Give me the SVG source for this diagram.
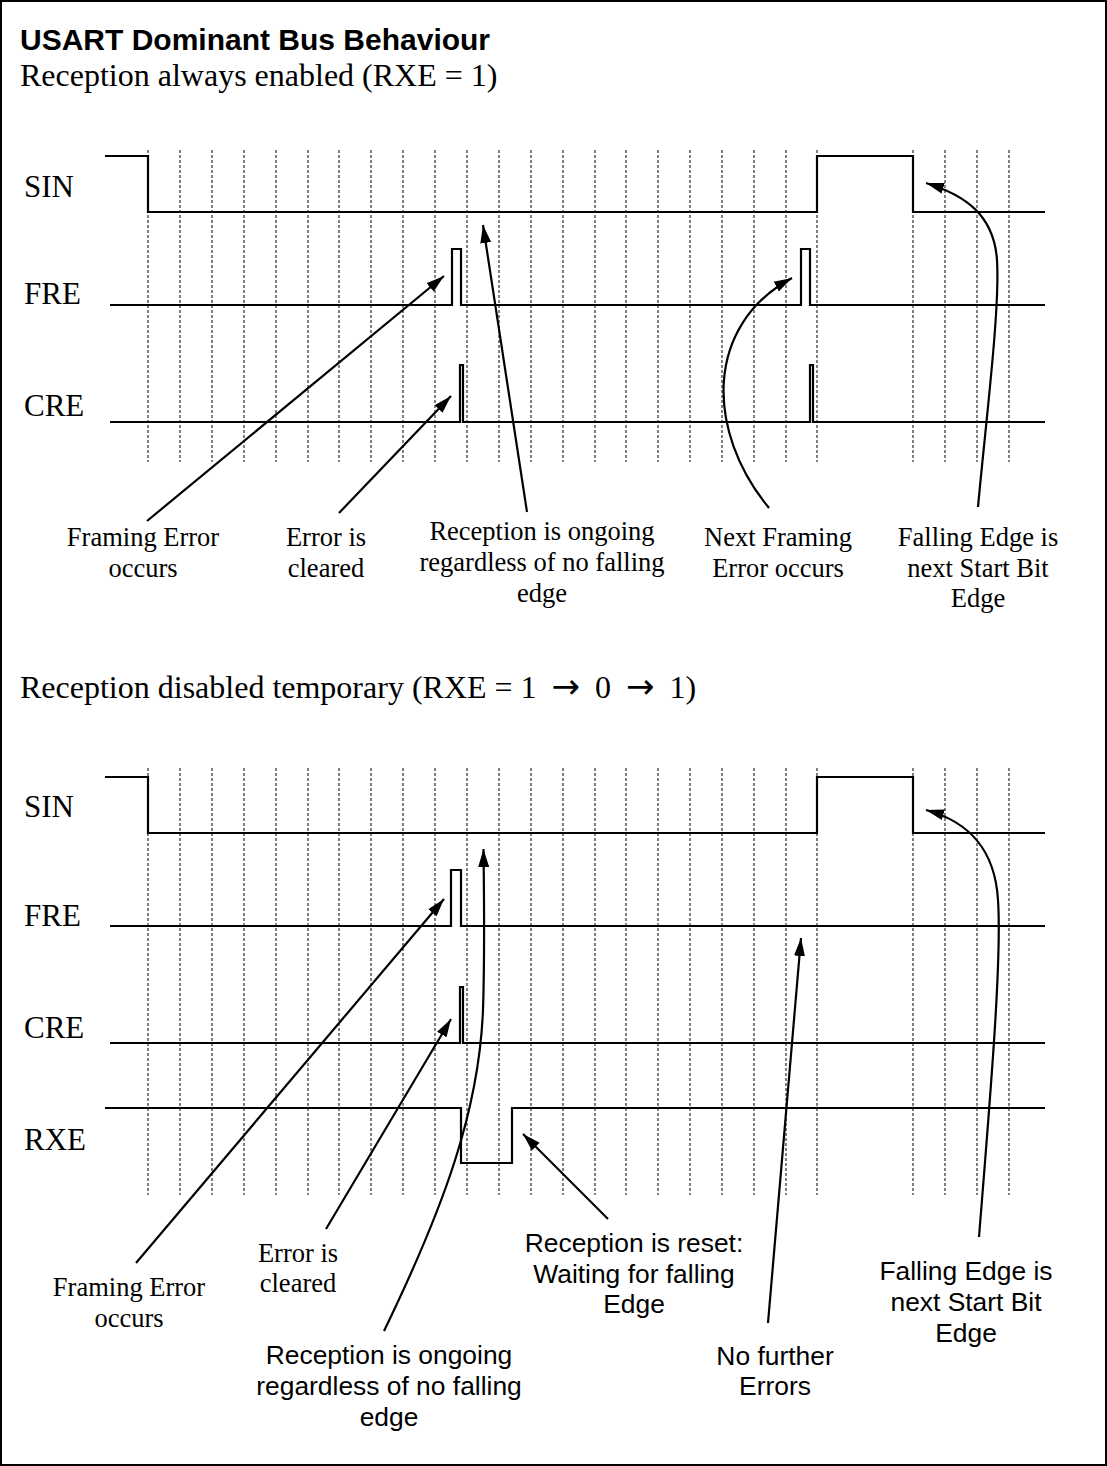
<svg xmlns="http://www.w3.org/2000/svg" width="1107" height="1466" viewBox="0 0 1107 1466">
<style>
.sig{fill:none;stroke:#000;stroke-width:2.2;stroke-linejoin:miter}
.grid line{stroke:#000;stroke-width:1;stroke-dasharray:3,2}
.arr{fill:none;stroke:#000;stroke-width:2.2;marker-end:url(#ah)}
.lbl{font-family:"Liberation Serif","Times New Roman",serif;font-size:31px;fill:#000}
.ser{font-family:"Liberation Serif","Times New Roman",serif;font-size:26.5px;fill:#000;text-anchor:middle}
.san{font-family:"Liberation Sans",Arial,sans-serif;font-size:26.4px;fill:#000;text-anchor:middle}
.title{font-family:"Liberation Sans",Arial,sans-serif;font-size:30px;font-weight:bold;fill:#000}
.sub{font-family:"Liberation Serif","Times New Roman",serif;font-size:32px;fill:#000}
.ar{font-family:"DejaVu Sans",sans-serif;font-size:34px}
</style>
<defs>
<marker id="ah" markerUnits="userSpaceOnUse" markerWidth="20" markerHeight="12" refX="18" refY="6" orient="auto">
<path d="M0,0.5 L18,6 L0,11.5 z" fill="#000"/>
</marker>
</defs>
<rect x="1" y="1" width="1105" height="1464" fill="#fff" stroke="#000" stroke-width="2"/>
<text class="title" x="20" y="50">USART Dominant Bus Behaviour</text>
<text class="sub" x="20" y="86">Reception always enabled (RXE = 1)</text>
<text class="sub" x="20" y="698">Reception disabled temporary (RXE = 1 <tspan class="ar" dx="7">→</tspan><tspan dx="7"> 0 </tspan><tspan class="ar" dx="7">→</tspan><tspan dx="7"> 1)</tspan></text>

<g id="grid-top" class="grid">
<line x1="148" y1="150" x2="148" y2="462"/><line x1="180" y1="150" x2="180" y2="462"/><line x1="212" y1="150" x2="212" y2="462"/><line x1="244" y1="150" x2="244" y2="462"/><line x1="276" y1="150" x2="276" y2="462"/><line x1="308" y1="150" x2="308" y2="462"/><line x1="339" y1="150" x2="339" y2="462"/><line x1="371" y1="150" x2="371" y2="462"/><line x1="403" y1="150" x2="403" y2="462"/><line x1="435" y1="150" x2="435" y2="462"/><line x1="467" y1="150" x2="467" y2="462"/><line x1="499" y1="150" x2="499" y2="462"/><line x1="531" y1="150" x2="531" y2="462"/><line x1="563" y1="150" x2="563" y2="462"/><line x1="595" y1="150" x2="595" y2="462"/><line x1="626" y1="150" x2="626" y2="462"/><line x1="658" y1="150" x2="658" y2="462"/><line x1="690" y1="150" x2="690" y2="462"/><line x1="722" y1="150" x2="722" y2="462"/><line x1="754" y1="150" x2="754" y2="462"/><line x1="786" y1="150" x2="786" y2="462"/><line x1="817" y1="150" x2="817" y2="462"/><line x1="913" y1="150" x2="913" y2="462"/><line x1="945" y1="150" x2="945" y2="462"/><line x1="977" y1="150" x2="977" y2="462"/><line x1="1009" y1="150" x2="1009" y2="462"/>
</g>
<g id="grid-bottom" class="grid">
<line x1="148" y1="768" x2="148" y2="1195"/><line x1="180" y1="768" x2="180" y2="1195"/><line x1="212" y1="768" x2="212" y2="1195"/><line x1="244" y1="768" x2="244" y2="1195"/><line x1="276" y1="768" x2="276" y2="1195"/><line x1="308" y1="768" x2="308" y2="1195"/><line x1="339" y1="768" x2="339" y2="1195"/><line x1="371" y1="768" x2="371" y2="1195"/><line x1="403" y1="768" x2="403" y2="1195"/><line x1="435" y1="768" x2="435" y2="1195"/><line x1="467" y1="768" x2="467" y2="1195"/><line x1="499" y1="768" x2="499" y2="1195"/><line x1="531" y1="768" x2="531" y2="1195"/><line x1="563" y1="768" x2="563" y2="1195"/><line x1="595" y1="768" x2="595" y2="1195"/><line x1="626" y1="768" x2="626" y2="1195"/><line x1="658" y1="768" x2="658" y2="1195"/><line x1="690" y1="768" x2="690" y2="1195"/><line x1="722" y1="768" x2="722" y2="1195"/><line x1="754" y1="768" x2="754" y2="1195"/><line x1="786" y1="768" x2="786" y2="1195"/><line x1="817" y1="768" x2="817" y2="1195"/><line x1="913" y1="768" x2="913" y2="1195"/><line x1="945" y1="768" x2="945" y2="1195"/><line x1="977" y1="768" x2="977" y2="1195"/><line x1="1009" y1="768" x2="1009" y2="1195"/>
</g>

<g id="top-SIN"><text class="lbl" x="24" y="197">SIN</text><path class="sig" d="M105,156 H148 V212 H817 V156 H913 V212 H1045"/></g>
<g id="top-FRE"><text class="lbl" x="24" y="304">FRE</text><path class="sig" d="M110,305 H452 V249 H461 V305 H801 V249 H810 V305 H1045"/></g>
<g id="top-CRE"><text class="lbl" x="24" y="416">CRE</text><path class="sig" d="M110,422 H460 V365 H463 V422 H810 V365 H813 V422 H1045"/></g>

<g id="bot-SIN"><text class="lbl" x="24" y="817">SIN</text><path class="sig" d="M105,777 H148 V833 H817 V777 H913 V833 H1045"/></g>
<g id="bot-FRE"><text class="lbl" x="24" y="926">FRE</text><path class="sig" d="M110,926 H451 V870 H461 V926 H1045"/></g>
<g id="bot-CRE"><text class="lbl" x="24" y="1038">CRE</text><path class="sig" d="M110,1043 H460 V987 H463 V1043 H1045"/></g>
<g id="bot-RXE"><text class="lbl" x="24" y="1150">RXE</text><path class="sig" d="M105,1108 H461 V1163 H512 V1108 H1045"/></g>

<g id="connectors">
<path class="arr" d="M147,521 L444,276"/>
<path class="arr" d="M339,513 L451,396"/>
<path class="arr" d="M527,512 L483,225"/>
<path class="arr" d="M769,508 C705,430 705,325 792,278"/>
<path class="arr" d="M978,507 C986,420 1000,310 997,260 C994,215 965,195 926,183"/>
<path class="arr" d="M136,1263 L444,899"/>
<path class="arr" d="M326,1229 L451,1019"/>
<path class="arr" d="M384,1331 C445,1205 479,1110 483,1010 C485,950 484,900 483.5,849"/>
<path class="arr" d="M608,1219 L523,1134"/>
<path class="arr" d="M768,1323 L801,938"/>
<path class="arr" d="M979,1237 C990,1100 1002,960 998,900 C995,850 970,822 926,810"/>
</g>

<g id="note-fe1"><text class="ser" x="143" y="546">Framing Error</text><text class="ser" x="143" y="577">occurs</text></g>
<g id="note-ec1"><text class="ser" x="326" y="546">Error is</text><text class="ser" x="326" y="577">cleared</text></g>
<g id="note-ro1"><text class="ser" x="542" y="540">Reception is ongoing</text><text class="ser" x="542" y="571">regardless of no falling</text><text class="ser" x="542" y="602">edge</text></g>
<g id="note-nfe1"><text class="ser" x="778" y="546">Next Framing</text><text class="ser" x="778" y="577">Error occurs</text></g>
<g id="note-fl1"><text class="ser" x="978" y="546">Falling Edge is</text><text class="ser" x="978" y="577">next Start Bit</text><text class="ser" x="978" y="607">Edge</text></g>

<g id="note-fe2"><text class="ser" x="129" y="1296">Framing Error</text><text class="ser" x="129" y="1327">occurs</text></g>
<g id="note-ec2"><text class="ser" x="298" y="1262">Error is</text><text class="ser" x="298" y="1292">cleared</text></g>
<g id="note-ro2"><text class="san" x="389" y="1364">Reception is ongoing</text><text class="san" x="389" y="1395">regardless of no falling</text><text class="san" x="389" y="1426">edge</text></g>
<g id="note-rr2"><text class="san" x="634" y="1252">Reception is reset:</text><text class="san" x="634" y="1283">Waiting for falling</text><text class="san" x="634" y="1313">Edge</text></g>
<g id="note-nf2"><text class="san" x="775" y="1365">No further</text><text class="san" x="775" y="1395">Errors</text></g>
<g id="note-fl2"><text class="san" x="966" y="1280">Falling Edge is</text><text class="san" x="966" y="1311">next Start Bit</text><text class="san" x="966" y="1342">Edge</text></g>
</svg>
